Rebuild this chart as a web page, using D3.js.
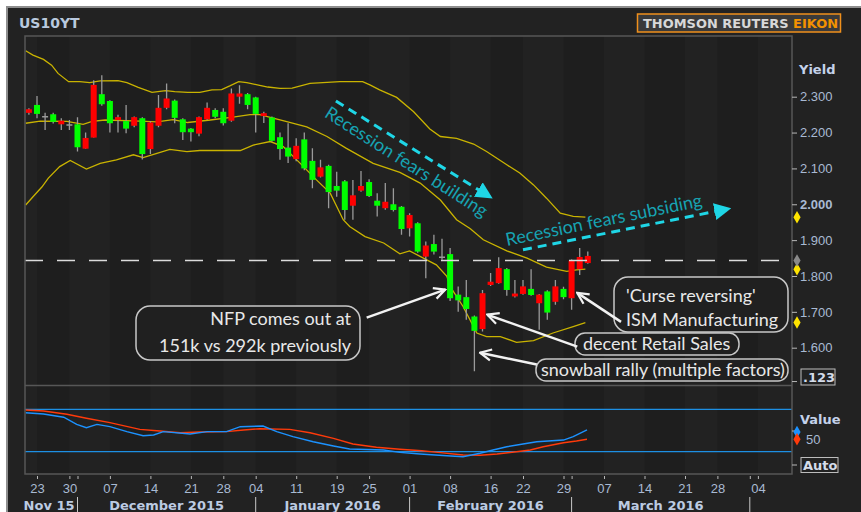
<!DOCTYPE html>
<meta charset="utf-8">
<style>
body { margin: 0; background: #fff; }
svg { display: block; font-family: "DejaVu Sans", sans-serif; }
.axis path.domain { display: none; }
.axis line { stroke: #b8b8b8; }
.axis text { fill: #a9bad3; font-size: 13px; }
.note { fill: #e8e8e8; font-family: Lato, "Open Sans", sans-serif; font-size: 18px; }
.notebox { fill: #202020; stroke: #c8c8c8; stroke-width: 1.5px; }
.arrow { stroke: #f2f2f2; stroke-width: 2.5px; fill: none; }
.trend { stroke: #1fd6e6; stroke-width: 3px; stroke-dasharray: 9,6; fill: none; }
.trendtext { fill: #17a3b2; font-family: Lato, "Open Sans", sans-serif; font-size: 18px; }
</style>
<body>
<script src="https://cdn.jsdelivr.net/npm/d3@7"></script>
<script>

// daily candles, 20 Nov 2015 (index -1) .. 03 Mar 2016 (index 68), index = trading day from 23 Nov
var firstIndex = -1;
var openY  = [2.255,2.277,2.244,2.251,2.223,2.221,2.223,2.155,2.186,2.307,2.288,2.235,2.232,2.219,2.240,2.154,2.219,2.269,2.289,2.237,
              2.211,2.197,2.237,2.263,2.258,2.233,2.300,2.307,2.298,2.246,2.242,2.187,2.158,2.126,2.181,2.121,2.077,2.107,2.051,2.064,
              1.996,2.038,2.062,2.010,1.989,2.000,1.993,1.933,1.947,1.854,1.889,1.852,1.861,1.748,1.741,1.687,1.652,1.775,1.780,1.819,
              1.743,1.750,1.764,1.724,1.757,1.728,1.764,1.738,1.819,1.836];
var highY  = [2.268,2.302,2.255,2.255,2.240,2.235,2.243,2.200,2.346,2.360,2.290,2.250,2.277,2.245,2.243,2.232,2.305,2.337,2.292,2.240,
              2.213,2.245,2.284,2.268,2.268,2.323,2.332,2.310,2.300,2.258,2.245,2.200,2.226,2.184,2.200,2.156,2.124,2.110,2.091,2.068,
              2.068,2.093,2.070,2.031,2.059,2.045,1.995,1.975,1.950,1.896,1.915,1.904,1.878,1.771,1.789,1.690,1.761,1.808,1.852,1.822,
              1.789,1.789,1.819,1.750,1.760,1.789,1.770,1.846,1.878,1.868];
var lowY   = [2.250,2.240,2.207,2.225,2.207,2.207,2.147,2.155,2.186,2.275,2.200,2.200,2.198,2.215,2.125,2.140,2.215,2.265,2.226,2.179,
              2.175,2.190,2.235,2.240,2.220,2.230,2.280,2.265,2.200,2.227,2.175,2.124,2.115,2.120,2.095,2.045,2.075,1.989,2.021,1.957,
              1.957,2.035,2.020,1.966,1.985,1.980,1.915,1.910,1.865,1.794,1.860,1.845,1.730,1.700,1.678,1.534,1.645,1.772,1.778,1.745,
              1.740,1.748,1.745,1.650,1.678,1.720,1.735,1.706,1.803,1.834];
var closeY = [2.265,2.252,2.244,2.230,2.233,2.221,2.159,2.185,2.333,2.279,2.226,2.243,2.211,2.243,2.140,2.228,2.269,2.295,2.241,2.201,
              2.201,2.243,2.269,2.244,2.226,2.309,2.309,2.277,2.252,2.254,2.177,2.154,2.133,2.163,2.100,2.068,2.103,2.034,2.038,1.984,
              2.025,2.051,2.023,1.996,2.007,1.984,1.931,1.970,1.868,1.885,1.868,1.852,1.738,1.732,1.708,1.647,1.752,1.784,1.822,1.761,
              1.751,1.771,1.747,1.748,1.698,1.771,1.741,1.843,1.853,1.856];
var lastPrice = 1.843;

// bollinger bands: [trading day index, yield]
var upperBand = [[-1.4,2.428],[-0.5,2.416],[0.8,2.404],[1.8,2.388],[2.6,2.365],[3.9,2.342],[5.3,2.342],[6.5,2.339],[7.8,2.344],
  [10,2.345],[11.1,2.339],[12.5,2.326],[14.2,2.312],[15.9,2.317],[17,2.314],[18.6,2.312],[20.1,2.312],[21.6,2.319],[22.8,2.32],
  [23.8,2.33],[24.9,2.342],[25.9,2.339],[27.2,2.333],[28.5,2.327],[30,2.323],[31.5,2.324],[33.7,2.337],[37.4,2.342],[40.2,2.342],
  [41.1,2.333],[42.3,2.319],[44.4,2.298],[46.5,2.258],[48.5,2.21],[49.8,2.189],[51.8,2.184],[53.9,2.168],[55.5,2.147],[58,2.11],
  [59.6,2.087],[61.3,2.054],[62.9,2.017],[64.6,1.975],[66.2,1.966],[67.7,1.964]];
var midBand = [[-1.4,2.226],[0.4,2.232],[3.7,2.231],[5.7,2.223],[6.8,2.231],[8.4,2.235],[12.7,2.232],[14.8,2.23],[16.8,2.236],
  [18.6,2.228],[21.4,2.235],[24.2,2.243],[26.3,2.25],[27.5,2.25],[29.4,2.239],[30.6,2.232],[33.3,2.216],[35.8,2.189],[38.2,2.156],
  [41.5,2.114],[44.8,2.089],[47.3,2.059],[49.8,2.012],[51.8,1.957],[53.5,1.932],[55.1,1.901],[58,1.87],[60.5,1.85],[62.9,1.825],
  [65.4,1.813],[66.6,1.817],[67.7,1.819]];
var lowerBand = [[-1.4,1.998],[-0.3,2.026],[0.6,2.048],[1.4,2.073],[2.8,2.105],[4.1,2.122],[6.1,2.098],[7.8,2.114],[9.8,2.124],
  [11.9,2.138],[13.1,2.13],[14.8,2.142],[16.4,2.153],[18.5,2.147],[20.1,2.15],[25.1,2.15],[26.7,2.165],[28.8,2.175],[30.4,2.161],
  [32.5,2.114],[34.5,2.068],[36.2,2.031],[37.8,1.957],[38.6,1.938],[40.5,1.91],[42.8,1.892],[44.8,1.862],[46,1.87],[47.7,1.85],
  [49.3,1.831],[50.6,1.799],[51,1.771],[52.6,1.715],[54.3,1.641],[55.5,1.631],[57.2,1.631],[59.2,1.615],[61.3,1.62],[63.7,1.641],
  [66.2,1.659],[67.7,1.67]];

// lower panel oscillator
var blueLine = [[-1.4,66.8],[0.8,65.6],[3.3,62.5],[4.9,55.8],[6.1,52.6],[7.4,55.8],[9,53.6],[11.1,48.9],[13.1,45.1],[14.4,45.8],
  [15.6,48.9],[18.9,46.7],[21,48.9],[23.4,48.9],[25.1,53.6],[27.9,54.2],[29.6,48.9],[31.6,44.2],[34.1,39.4],[36.6,35.4],[38.6,32.5],
  [42.8,31.6],[44.8,29.4],[47.3,27.8],[50.6,26.2],[52.6,25.3],[54.7,28.5],[56.3,31.6],[58,34.7],[60,37.3],[61.7,39.4],[65,41],
  [66.2,44.2],[67.9,50.5]];
var redLine = [[-1.4,69.3],[0.8,68.4],[3.7,65.3],[6.1,61.5],[9,57.4],[12.7,51.1],[14.8,49.8],[17.7,47.9],[20.1,48.6],[23.4,48.9],
  [25.5,50.5],[27.5,51.7],[31.2,51.1],[33.7,47.9],[36.6,42.6],[39,37.3],[41.9,34.2],[44.8,32.3],[47.5,30.9],[49.8,29.1],[52.6,26.9],
  [54.7,26.6],[56.8,27.8],[59.2,30],[60.9,31.6],[62.5,34.7],[65,38.5],[66.6,40.1],[67.9,41.7]];
var oscLevels = [30, 70];

// axes
var yTicks = [1.6, 1.7, 1.8, 1.9, 2.0, 2.1, 2.2, 2.3];
var xTickIdx    = [0,4,5,9,14,19,23,27,32,37,41,46,51,56,60,65,66,70,75,80,84,88,89];
var xTickLabels = ["23","30","","07","14","21","28","04","11","19","25","01","08","16","22","29","","07","14","21","28","","04"];
var monthBreaks = [5, 27, 46, 66, 88];
var monthLabels = ["December 2015", "January 2016", "February 2016", "March 2016"];

var W = 861, H = 512;
var plotL = 25, plotR = 792, plotT = 36, mainB = 385.5, lowT = 386, lowB = 474;

var x = d3.scaleLinear().domain([0, 89]).range([37, 37 + 89 * 8.1]);
var y = d3.scaleLinear().domain([1.6, 2.3]).range([347.7, 96.7]);
var yLow = d3.scaleLinear().domain([30, 70]).range([451.7, 409.3]);

var svg = d3.select("body").append("svg").attr("width", W).attr("height", H);
var defs = svg.append("defs");

svg.append("rect").attr("x", 7).attr("y", 7).attr("width", W).attr("height", H)
    .attr("fill", "#222").attr("stroke", "#8e8e8e").attr("stroke-width", 2);

// faint alternate week shading
var weekStarts = xTickIdx.filter(function(d, i) { return xTickLabels[i] !== ""; });
weekStarts.forEach(function(d, i) {
  if (i % 2 === 1 || i === weekStarts.length - 1) return;
  var x0 = Math.max(plotL, x(d)), x1 = Math.min(plotR, x(weekStarts[i + 1]));
  svg.append("rect").attr("x", x0).attr("y", plotT).attr("width", x1 - x0).attr("height", lowB - plotT)
      .attr("fill", "#1e1e1e");
});

defs.append("clipPath").attr("id", "clipMain").append("rect")
    .attr("x", plotL).attr("y", plotT).attr("width", plotR - plotL).attr("height", mainB - plotT);
defs.append("clipPath").attr("id", "clipLow").append("rect")
    .attr("x", plotL).attr("y", lowT).attr("width", plotR - plotL).attr("height", lowB - lowT);

var main = svg.append("g").attr("clip-path", "url(#clipMain)");

// bands
var bandLine = d3.line().x(function(d) { return x(d[0]); }).y(function(d) { return y(d[1]); });
[upperBand, midBand, lowerBand].forEach(function(b) {
  main.append("path").datum(b).attr("d", bandLine)
      .attr("fill", "none").attr("stroke", "#c9b300").attr("stroke-width", 1.3);
});

// candles
var candles = openY.map(function(o, k) {
  return {i: k + firstIndex, o: o, h: highY[k], l: lowY[k], c: closeY[k]};
});
var cw = 6;
var cg = main.selectAll(".candle").data(candles).enter().append("g").attr("class", "candle");
cg.append("line")
    .attr("x1", function(d) { return x(d.i); }).attr("x2", function(d) { return x(d.i); })
    .attr("y1", function(d) { return y(d.h); }).attr("y2", function(d) { return y(d.l); })
    .attr("stroke", "#9a9a9a").attr("stroke-width", 1.3);
cg.filter(function(d) { return d.o !== d.c; }).append("rect")
    .attr("x", function(d) { return x(d.i) - cw / 2; })
    .attr("width", cw)
    .attr("y", function(d) { return y(Math.max(d.o, d.c)); })
    .attr("height", function(d) { return Math.max(1, y(Math.min(d.o, d.c)) - y(Math.max(d.o, d.c))); })
    .attr("fill", function(d) { return d.c > d.o ? "#ff0000" : "#00ff00"; });
cg.filter(function(d) { return d.o === d.c; }).append("line")
    .attr("x1", function(d) { return x(d.i) - cw / 2; }).attr("x2", function(d) { return x(d.i) + cw / 2; })
    .attr("y1", function(d) { return y(d.c); }).attr("y2", function(d) { return y(d.c); })
    .attr("stroke", "#9a9a9a").attr("stroke-width", 1.5);

// last price line
main.append("line").attr("x1", plotL).attr("x2", plotR)
    .attr("y1", y(lastPrice)).attr("y2", y(lastPrice))
    .attr("stroke", "#dcdcdc").attr("stroke-width", 1.5).attr("stroke-dasharray", "18,14");

// lower panel
var low = svg.append("g").attr("clip-path", "url(#clipLow)");
oscLevels.forEach(function(v) {
  low.append("line").attr("x1", plotL).attr("x2", plotR).attr("y1", yLow(v)).attr("y2", yLow(v))
      .attr("stroke", "#1d8fe3").attr("stroke-width", 1.3);
});
var oscLine = d3.line().x(function(d) { return x(d[0]); }).y(function(d) { return yLow(d[1]); });
low.append("path").datum(redLine).attr("d", oscLine).attr("fill", "none").attr("stroke", "#ff3a0a").attr("stroke-width", 1.4);
low.append("path").datum(blueLine).attr("d", oscLine).attr("fill", "none").attr("stroke", "#1c92ff").attr("stroke-width", 1.4);

// frames
svg.append("rect").attr("x", plotL).attr("y", plotT).attr("width", plotR - plotL).attr("height", lowB - plotT)
    .attr("fill", "none").attr("stroke", "#575757").attr("stroke-width", 1.5);
svg.append("line").attr("x1", plotL).attr("x2", plotR).attr("y1", mainB).attr("y2", mainB)
    .attr("stroke", "#575757").attr("stroke-width", 1.5);

// right axis
var yAxis = d3.axisRight(y).tickValues(yTicks).tickSize(5).tickPadding(3).tickFormat(d3.format(".3f"));
var ya = svg.append("g").attr("class", "axis").attr("transform", "translate(" + plotR + ",0)").call(yAxis);
ya.selectAll("text").filter(function(d) { return d === 2.0; }).attr("font-weight", "bold").attr("fill", "#c8d6ec");
svg.append("line").attr("x1", plotR).attr("x2", plotR + 5).attr("y1", y(1.5) - 2).attr("y2", y(1.5) - 2).attr("stroke", "#b8b8b8");

svg.append("text").attr("x", 799).attr("y", 74).attr("font-weight", "bold").attr("font-size", 13).attr("fill", "#c4d2ea").text("Yield");

var diamond = d3.symbol().type(d3.symbolDiamond).size(45);
[upperBand, midBand, lowerBand].forEach(function(b) {
  svg.append("path").attr("d", diamond).attr("fill", "#ffe400")
      .attr("transform", "translate(" + (plotR + 5) + "," + y(b[b.length - 1][1]) + ")");
});
svg.append("path").attr("d", diamond).attr("fill", "#8a8a8a")
    .attr("transform", "translate(" + (plotR + 5) + "," + y(lastPrice) + ")");

svg.append("rect").attr("x", 801).attr("y", 369).attr("width", 34).attr("height", 16)
    .attr("fill", "#222").attr("stroke", "#bdbdbd");
svg.append("text").attr("x", 803).attr("y", 382).attr("font-weight", "bold").attr("font-size", 13)
    .attr("fill", "#d4dcea").text(".123");

// lower right axis
var lowAxis = d3.axisRight(yLow).tickValues([50]).tickSize(5).tickPadding(9);
var la = svg.append("g").attr("class", "axis").attr("transform", "translate(" + plotR + ",0)").call(lowAxis);
la.selectAll("text").attr("dy", "1.0em").attr("fill", "#c8d0dc");
svg.append("text").attr("x", 800).attr("y", 424).attr("font-weight", "bold").attr("font-size", 13).attr("fill", "#c4d2ea").text("Value");
svg.append("path").attr("d", diamond).attr("fill", "#1c92ff")
    .attr("transform", "translate(" + (plotR + 5) + "," + (yLow(blueLine[blueLine.length - 1][1]) + 2) + ")");
svg.append("path").attr("d", diamond).attr("fill", "#ff3a0a")
    .attr("transform", "translate(" + (plotR + 5) + "," + yLow(redLine[redLine.length - 1][1]) + ")");
svg.append("line").attr("x1", plotR).attr("x2", plotR + 5).attr("y1", 465).attr("y2", 465).attr("stroke", "#b8b8b8");
svg.append("rect").attr("x", 801).attr("y", 457.5).attr("width", 37).attr("height", 15)
    .attr("fill", "#222").attr("stroke", "#bdbdbd");
svg.append("text").attr("x", 803).attr("y", 470).attr("font-weight", "bold").attr("font-size", 13)
    .attr("fill", "#d4dcea").text("Auto");

// bottom axis
var xAxis = d3.axisBottom(x).tickValues(xTickIdx).tickSize(3).tickPadding(5)
    .tickFormat(function(d, i) { return xTickLabels[i]; });
svg.append("g").attr("class", "axis").attr("transform", "translate(0," + (lowB + 2) + ")").call(xAxis);

monthBreaks.forEach(function(m) {
  svg.append("line").attr("x1", x(m)).attr("x2", x(m)).attr("y1", 497).attr("y2", 512)
      .attr("stroke", "#c8c8c8").attr("stroke-width", 1);
});
monthLabels.forEach(function(t, i) {
  svg.append("text").attr("x", (x(monthBreaks[i]) + x(monthBreaks[i + 1])) / 2).attr("y", 510)
      .attr("text-anchor", "middle").attr("font-weight", "bold").attr("font-size", 13)
      .attr("fill", "#bccbe2").text(t);
});
svg.append("text").attr("x", x(monthBreaks[0]) - 3).attr("y", 510).attr("text-anchor", "end")
    .attr("font-weight", "bold").attr("font-size", 13).attr("fill", "#bccbe2").text("Nov 15");

// header
svg.append("text").attr("x", 19).attr("y", 28).attr("font-weight", "bold").attr("font-size", 14)
    .attr("fill", "#b9c9de").text("US10YT");
svg.append("rect").attr("x", 637.5).attr("y", 14).attr("width", 203).attr("height", 18)
    .attr("fill", "#3a3a3a").attr("stroke", "#f0901c").attr("stroke-width", 1.5);
var logo = svg.append("text").attr("x", 643).attr("y", 28).attr("font-weight", "bold").attr("font-size", 13)
    .attr("textLength", 195).attr("lengthAdjust", "spacingAndGlyphs");
logo.append("tspan").attr("fill", "#d8d8d8").text("THOMSON REUTERS ");
logo.append("tspan").attr("fill", "#f39200").text("EIKON");

// markers
defs.append("marker").attr("id", "wArrow").attr("viewBox", "0 0 10 10").attr("refX", 9).attr("refY", 5)
    .attr("markerWidth", 14).attr("markerHeight", 14).attr("markerUnits", "userSpaceOnUse").attr("orient", "auto")
  .append("path").attr("d", "M1,1 L9,5 L1,9").attr("fill", "none").attr("stroke", "#f2f2f2").attr("stroke-width", 1.6);
defs.append("marker").attr("id", "cArrow").attr("viewBox", "0 0 10 10").attr("refX", 8).attr("refY", 5)
    .attr("markerWidth", 17).attr("markerHeight", 17).attr("markerUnits", "userSpaceOnUse").attr("orient", "auto")
  .append("path").attr("d", "M0,0 L10,5 L0,10 Z").attr("fill", "#1fd6e6");

// trend arrows (data coords)
function trend(a, b) {
  svg.append("line").attr("class", "trend")
      .attr("x1", x(a[0])).attr("y1", y(a[1])).attr("x2", x(b[0])).attr("y2", y(b[1]))
      .attr("marker-end", "url(#cArrow)");
}
trend([36.9, 2.288], [55.9, 2.021]);
trend([60.0, 1.873], [85.3, 1.987]);
svg.append("text").attr("class", "trendtext").attr("text-anchor", "middle")
    .attr("transform", "translate(403,167) rotate(32.5)").text("Recession fears building");
svg.append("text").attr("class", "trendtext").attr("text-anchor", "middle")
    .attr("transform", "translate(605,226) rotate(-11.5)").text("Recession fears subsiding");

// callouts
function callout(x0, y0, w, h, lines, anchor, tx, baselines) {
  svg.append("rect").attr("class", "notebox").attr("x", x0).attr("y", y0).attr("width", w).attr("height", h)
      .attr("rx", h > 30 ? 14 : 10);
  lines.forEach(function(t, k) {
    svg.append("text").attr("class", "note").attr("x", tx).attr("y", baselines[k]).attr("text-anchor", anchor).text(t);
  });
}
function pointer(from, to) {
  svg.append("line").attr("class", "arrow")
      .attr("x1", x(from[0])).attr("y1", y(from[1])).attr("x2", x(to[0])).attr("y2", y(to[1]))
      .attr("marker-end", "url(#wArrow)");
}
callout(136, 306, 224, 54, ["NFP comes out at", "151k vs 292k previously"], "end", 351, [325, 352]);
callout(614, 277, 174, 55, ["'Curse reversing'", "ISM Manufacturing"], "start", 626, [302, 326]);
callout(575, 333, 164, 22, ["decent Retail Sales"], "start", 583, [350]);
callout(536, 359, 252, 22, ["snowball rally (multiple factors)"], "start", 541, [376]);

pointer([40.7, 1.684], [50.4, 1.762]);
pointer([66.7, 1.603], [55.6, 1.692]);
pointer([61.7, 1.553], [54.7, 1.586]);
pointer([72.1, 1.672], [66.7, 1.753]);

</script>
